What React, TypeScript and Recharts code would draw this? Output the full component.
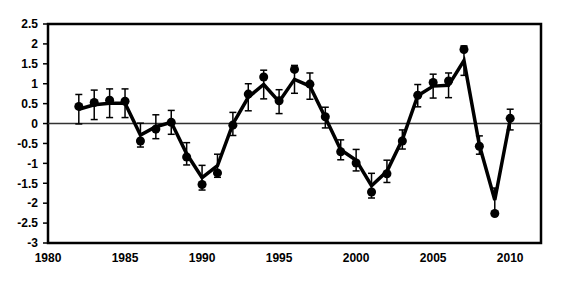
import React from 'react';
import {
  ComposedChart,
  Line,
  Scatter,
  ErrorBar,
  XAxis,
  YAxis,
  ReferenceLine,
  ReferenceArea,
} from 'recharts';

// Years covered by the series
const years = [
  1982, 1983, 1984, 1985, 1986, 1987, 1988, 1989, 1990, 1991, 1992, 1993, 1994, 1995, 1996,
  1997, 1998, 1999, 2000, 2001, 2002, 2003, 2004, 2005, 2006, 2007, 2008, 2009, 2010,
];

// Fitted line values (error bars are centred on these)
const fitted = [
  0.36, 0.47, 0.51, 0.51, -0.29, -0.08, 0.03, -0.76, -1.36, -1.06, -0.01, 0.66, 0.98, 0.55, 1.11,
  0.94, 0.15, -0.66, -0.92, -1.56, -1.2, -0.4, 0.7, 0.94, 0.96, 1.58, -0.54, -1.92, 0.1,
];

// Half-width of each error bar
const errors = [
  0.37, 0.37, 0.36, 0.36, 0.3, 0.3, 0.3, 0.28, 0.31, 0.29, 0.29, 0.34, 0.36, 0.3, 0.35,
  0.33, 0.26, 0.25, 0.27, 0.31, 0.28, 0.24, 0.28, 0.3, 0.31, 0.37, 0.23, 0.3, 0.26,
];

// Observed points (filled circles)
const observed = [
  0.43, 0.53, 0.585, 0.56, -0.44, -0.14, 0.03, -0.84, -1.53, -1.24, -0.04, 0.74, 1.17, 0.57, 1.36,
  0.99, 0.17, -0.71, -0.99, -1.72, -1.26, -0.44, 0.71, 1.03, 1.07, 1.86, -0.57, -2.26, 0.13,
];

const xTicks = [1980, 1985, 1990, 1995, 2000, 2005, 2010];
const yTicks = [2.5, 2, 1.5, 1, 0.5, 0, -0.5, -1, -1.5, -2, -2.5, -3];

const data = years.map((year, i) => ({
  year,
  fit: fitted[i],
  err: errors[i],
  obs: observed[i],
}));

const tickStyle = {
  fontFamily: '"Liberation Sans", Arial, sans-serif',
  fontWeight: 700,
  fontSize: 12,
  fill: '#000',
};

export default function App() {
  return (
    <div style={{ position: 'absolute', left: 0, top: 0, background: '#fff' }}>
      <ComposedChart
        width={585}
        height={303}
        data={data}
        margin={{ top: 24, right: 44, bottom: 30, left: 0 }}
      >
        <XAxis
          dataKey="year"
          type="number"
          domain={[1980, 2012]}
          ticks={xTicks}
          tickLine={false}
          tickSize={8}
          tickMargin={2}
          axisLine={false}
          height={30}
          tick={tickStyle}
        />
        <YAxis
          type="number"
          domain={[-3, 2.5]}
          ticks={yTicks}
          interval={0}
          width={48}
          tickSize={5}
          tickMargin={5}
          tickLine={{ stroke: '#000', strokeWidth: 1.5 }}
          axisLine={false}
          tick={tickStyle}
        />
        <ReferenceLine y={0} stroke="#333" strokeWidth={1.5} />
        <ReferenceArea
          x1={1980}
          x2={2012}
          y1={-3}
          y2={2.5}
          fill="none"
          fillOpacity={0}
          stroke="#000"
          strokeWidth={2.5}
        />
        <Line
          dataKey="fit"
          stroke="#000"
          strokeWidth={3.5}
          dot={false}
          isAnimationActive={false}
        >
          <ErrorBar dataKey="err" direction="y" width={3.5} stroke="#000" strokeWidth={1.5} />
        </Line>
        <Scatter dataKey="obs" fill="#000" isAnimationActive={false} />
      </ComposedChart>
    </div>
  );
}
